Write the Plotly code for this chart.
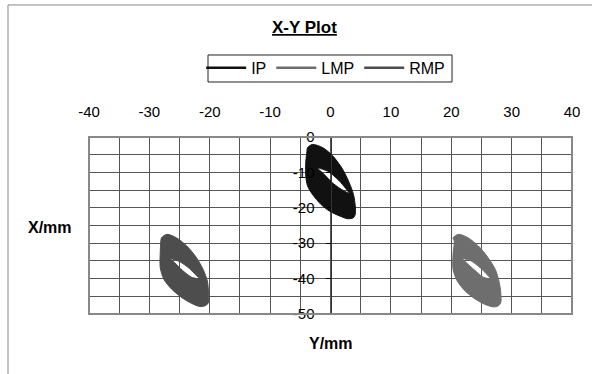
import plotly.graph_objects as go

# Swept region of each marker (x = Y/mm, y = X/mm):
# outer boundary, then the enclosed gap traced the opposite way round
ip_outer_x = [-3.8, -3.0, -1.3, 0.4, 2.0, 3.1, 3.8, 4.1, 4.1, 3.8, 2.9, 1.5, -0.2, -1.6, -3.0, -3.8, -4.1, -4.1, -3.9, -3.8]
ip_outer_y = [-3.0, -2.1, -3.0, -5.4, -9.1, -12.9, -16.2, -19.5, -21.8, -22.8, -23.1, -22.3, -20.9, -19.0, -16.2, -13.8, -11.0, -7.3, -4.0, -3.0]
ip_inner_x = [-2.1, -1.2, 0.5, 2.1, 3.1, 2.5, 1.4, -0.3, -2.1]
ip_inner_y = [-8.8, -10.3, -13.2, -15.1, -15.9, -14.5, -12.3, -9.8, -8.8]

lmp_outer_x = [20.3, 21.2, 22.8, 24.5, 26.1, 27.3, 27.9, 28.2, 28.2, 27.8, 27.0, 25.6, 23.9, 22.3, 21.0, 20.3, 20.3, 20.5, 20.3]
lmp_outer_y = [-28.5, -27.5, -28.5, -30.8, -34.1, -37.4, -40.7, -44.0, -46.8, -47.7, -48.0, -47.3, -45.7, -43.5, -40.7, -37.4, -33.1, -29.4, -28.5]
lmp_inner_x = [21.9, 22.5, 23.8, 25.3, 26.5, 26.0, 24.9, 23.3, 21.9]
lmp_inner_y = [-34.4, -35.5, -37.5, -39.6, -40.0, -39.0, -37.1, -35.0, -34.4]

rmp_outer_x = [-28.0, -27.1, -25.5, -23.8, -22.2, -21.1, -20.4, -20.2, -20.2, -20.8, -21.6, -23.0, -24.6, -26.3, -27.6, -28.2, -28.2, -28.1, -28.0]
rmp_outer_y = [-28.5, -27.5, -28.5, -30.8, -34.1, -37.4, -40.7, -44.0, -46.8, -47.7, -47.9, -47.0, -45.4, -43.0, -40.2, -36.9, -32.7, -29.4, -28.5]
rmp_inner_x = [-26.5, -25.8, -24.5, -23.0, -21.7, -22.3, -23.4, -25.0, -26.5]
rmp_inner_y = [-34.4, -35.5, -37.7, -39.6, -40.0, -39.0, -37.1, -35.2, -34.4]

series_names = ["IP", "LMP", "RMP"]
series_colors = ["#111111", "#6e6e6e", "#4d4d4d"]

x_ticks = [-40, -30, -20, -10, 0, 10, 20, 30, 40]
x_labels = ["-40", "-30", "-20", "-10", "0", "10", "20", "30", "40"]
y_ticks = [0, -10, -20, -30, -40, -50]
y_labels = ["0", "-10", "-20", "-30", "-40", "-50"]

FONT = "Liberation Sans, Arial, sans-serif"

fig = go.Figure()

regions = [
    (ip_outer_x, ip_outer_y, ip_inner_x, ip_inner_y),
    (lmp_outer_x, lmp_outer_y, lmp_inner_x, lmp_inner_y),
    (rmp_outer_x, rmp_outer_y, rmp_inner_x, rmp_inner_y),
]

for name, color, (ox, oy, ix, iy) in zip(series_names, series_colors, regions):
    fig.add_trace(go.Scatter(
        x=ox + [None] + ix, y=oy + [None] + iy,
        mode="lines", name=name, legendgroup=name, showlegend=False,
        fill="toself", fillcolor=color,
        line=dict(color=color, width=1, shape="spline", smoothing=0.8),
        hoverinfo="skip",
    ))
    # thin legend key for the series
    fig.add_trace(go.Scatter(
        x=[None], y=[None], mode="lines", name=name, legendgroup=name,
        line=dict(color=color, width=2.5),
    ))

fig.update_layout(
    width=592, height=374,
    margin=dict(l=89, r=20, t=137, b=60),
    paper_bgcolor="white", plot_bgcolor="white",
    font=dict(family=FONT, color="black", size=15),
    showlegend=True,
    legend=dict(
        orientation="h", x=0.49, xanchor="center", y=1.39, yanchor="middle",
        borderwidth=0, bgcolor="rgba(0,0,0,0)",
        font=dict(size=16, family=FONT), itemwidth=40,
        tracegroupgap=0,
    ),
    hovermode=False,
)

fig.update_xaxes(
    range=[-40, 40], side="top", tickvals=x_ticks, ticktext=x_labels,
    ticks="outside", ticklen=13, tickcolor="rgba(0,0,0,0)",
    showgrid=True, gridcolor="#555555", gridwidth=1,
    minor=dict(dtick=5, tick0=0, showgrid=True, gridcolor="#555555", gridwidth=1),
    zeroline=False, showline=False, fixedrange=True,
    tickfont=dict(size=15),
)
fig.update_yaxes(
    range=[-50, 0], tickvals=y_ticks, ticktext=y_labels,
    anchor="free", position=0.5, side="left",
    ticks="outside", ticklen=5, tickcolor="black", ticklabelstandoff=8,
    showgrid=True, gridcolor="#555555", gridwidth=1,
    minor=dict(dtick=5, tick0=0, showgrid=True, gridcolor="#555555", gridwidth=1),
    zeroline=False, showline=True, linecolor="#333333", linewidth=1, fixedrange=True,
    tickfont=dict(size=15),
)

# plot-area frame, legend frame and outer chart frame
fig.add_shape(type="rect", xref="paper", yref="paper", x0=0, x1=1, y0=0, y1=1,
              line=dict(color="#888888", width=2), layer="above")
fig.add_shape(type="rect", xref="paper", yref="paper", x0=0.2464, x1=0.7516, y0=1.3107, y1=1.4633,
              line=dict(color="#222222", width=1), fillcolor="white", layer="below")
fig.add_shape(type="line", xref="paper", yref="paper", x0=-0.1677, x1=-0.1677, y0=1.746, y1=-0.4,
              line=dict(color="#888888", width=1))
fig.add_shape(type="line", xref="paper", yref="paper", x0=-0.1677, x1=1.1, y0=1.746, y1=1.746,
              line=dict(color="#888888", width=1))

fig.add_annotation(text="<b><u>X-Y Plot</u></b>", xref="paper", yref="paper",
                   x=0.447, y=1.621, xanchor="center", yanchor="middle",
                   showarrow=False, font=dict(size=17, family=FONT))
fig.add_annotation(text="<b>X/mm</b>", xref="paper", yref="paper",
                   x=-0.0807, y=0.4915, xanchor="center", yanchor="middle",
                   showarrow=False, font=dict(size=16, family=FONT))
fig.add_annotation(text="<b>Y/mm</b>", xref="paper", yref="paper",
                   x=0.5, y=-0.164, xanchor="center", yanchor="middle",
                   showarrow=False, font=dict(size=16, family=FONT))

fig.write_html("out.html")
